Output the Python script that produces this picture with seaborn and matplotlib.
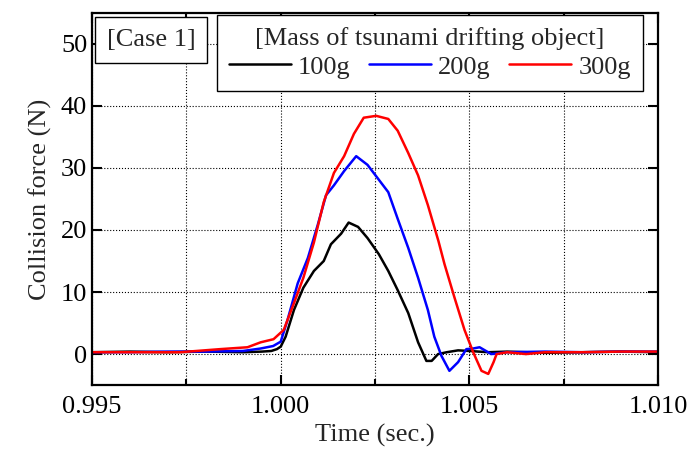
import matplotlib
matplotlib.use("Agg")
import matplotlib.pyplot as plt
from matplotlib.ticker import MultipleLocator, FormatStrFormatter
import pandas as pd
import seaborn as sns

# ==============================================================================: DATA
t_100 = [0.9950, 0.9960, 0.9970, 0.9980, 0.9990, 0.9995, 0.99975, 0.99990, 1.00000,
         1.00013, 1.00035, 1.00060, 1.00088, 1.00114, 1.00133, 1.00160, 1.00180,
         1.00205, 1.00230, 1.00260, 1.00285, 1.00310, 1.00338, 1.00364, 1.00386,
         1.00400, 1.00417, 1.00440, 1.00470, 1.00500, 1.00550, 1.00600, 1.00700,
         1.00800, 1.00900, 1.01000]
f_100 = [0.3, 0.4, 0.3, 0.4, 0.3, 0.4, 0.5, 0.8, 1.2,
         2.8, 7.1, 10.7, 13.4, 15.0, 17.7, 19.4, 21.2,
         20.5, 18.7, 16.1, 13.4, 10.3, 6.6, 1.9, -1.1,
         -1.1, 0.0, 0.3, 0.6, 0.5, 0.3, 0.4, 0.2,
         0.3, 0.4, 0.3]

t_200 = [0.9950, 0.9960, 0.9970, 0.9980, 0.9990, 0.99947, 0.99980, 1.00000, 1.00018,
         1.00045, 1.00072, 1.00098, 1.00120, 1.00141, 1.00168, 1.00200, 1.00230,
         1.00260, 1.00285, 1.00310, 1.00338, 1.00364, 1.00390, 1.00407, 1.00426,
         1.00447, 1.00470, 1.00492, 1.00510, 1.00527, 1.00558, 1.00600, 1.00700,
         1.00800, 1.00900, 1.01000]
f_200 = [0.3, 0.3, 0.4, 0.4, 0.5, 0.9, 1.3, 2.0, 5.5,
         11.4, 15.5, 20.8, 25.6, 27.2, 29.5, 31.9, 30.5,
         28.1, 26.1, 21.8, 17.1, 12.3, 7.1, 2.8, -0.3,
         -2.7, -1.3, 0.8, 0.9, 1.1, 0.0, 0.3, 0.4,
         0.3, 0.4, 0.4]

t_300 = [0.9950, 0.9960, 0.9970, 0.99734, 0.9984, 0.99912, 0.99947, 0.99981, 1.00008,
         1.00035, 1.00060, 1.00088, 1.00114, 1.00141, 1.00168, 1.00194, 1.00220,
         1.00253, 1.00285, 1.00310, 1.00338, 1.00364, 1.00390, 1.00418, 1.00434,
         1.00460, 1.00487, 1.00510, 1.00532, 1.00550, 1.00564, 1.00572, 1.00600,
         1.00650, 1.00700, 1.00800, 1.00900, 1.01000]
f_300 = [0.3, 0.3, 0.3, 0.3, 0.8, 1.1, 1.9, 2.4, 3.9,
         8.2, 12.3, 18.0, 24.5, 29.2, 31.9, 35.5, 38.1,
         38.4, 37.9, 36.0, 32.4, 28.8, 24.0, 18.2, 14.5,
         9.2, 3.9, 0.3, -2.7, -3.2, -1.3, 0.0, 0.3,
         0.0, 0.3, 0.3, 0.4, 0.4]

masses = ["100g", "200g", "300g"]
colors = ["black", "blue", "red"]

SERIF = ["Liberation Serif", "DejaVu Serif"]


# ==============================================================================: PLOT
def build_frame():
    parts = []
    for name, t, f in zip(masses, [t_100, t_200, t_300], [f_100, f_200, f_300]):
        parts.append(pd.DataFrame({"time": t, "force": f, "mass": name}))
    return pd.concat(parts, ignore_index=True)


def main():
    df = build_frame()

    sns.set_style("ticks")
    plt.rcParams["font.family"] = SERIF
    plt.rcParams["font.serif"] = SERIF

    fig = plt.figure(figsize=(6.92, 4.59), dpi=100)
    ax = fig.add_axes([0.133, 0.161, 0.818, 0.811])

    sns.lineplot(data=df, x="time", y="force", hue="mass", palette=dict(zip(masses, colors)),
                 estimator=None, sort=False, linewidth=1.8, ax=ax)

    ax.set_xlim(0.995, 1.010)
    ax.set_ylim(-5, 55)
    ax.xaxis.set_major_locator(MultipleLocator(0.005))
    ax.xaxis.set_minor_locator(MultipleLocator(0.0025))
    ax.xaxis.set_major_formatter(FormatStrFormatter("%.3f"))
    ax.yaxis.set_major_locator(MultipleLocator(10))
    ax.yaxis.set_major_formatter(FormatStrFormatter("%d"))

    ax.grid(True, which="major", color="black", linestyle=":", linewidth=0.8)
    ax.grid(True, which="minor", axis="x", color="black", linestyle=":", linewidth=0.8)

    ax.tick_params(which="both", direction="in", top=True, right=True, labelsize=19,
                   color="black", labelcolor="black", width=1.5)
    ax.tick_params(which="major", length=7)
    ax.tick_params(which="minor", length=4)
    ax.tick_params(axis="x", pad=8)
    for s in ax.spines.values():
        s.set_linewidth(1.6)
        s.set_color("black")

    ax.set_xlabel("Time (sec.)", fontsize=19, labelpad=4, family=SERIF)
    ax.set_ylabel("Collision force (N)", fontsize=19, labelpad=6, family=SERIF)

    handles, labels = ax.get_legend_handles_labels()
    leg = ax.legend(handles, labels, title="[Mass of tsunami drifting object]", ncol=3,
                    loc="upper right", bbox_to_anchor=(0.973, 0.994), borderaxespad=0,
                    fontsize=19, title_fontsize=19, handlelength=2.35, handletextpad=0.27,
                    columnspacing=0.7, frameon=True, fancybox=False, framealpha=1,
                    edgecolor="black", borderpad=0.45, labelspacing=0.2)
    leg.get_frame().set_linewidth(1.0)
    for txt in leg.get_texts() + [leg.get_title()]:
        txt.set_fontfamily(SERIF)

    ax.text(0.104, 0.927, "[Case 1]", transform=ax.transAxes, ha="center", va="center",
            fontsize=19, family=SERIF,
            bbox=dict(boxstyle="square,pad=0.45", fc="white", ec="black", lw=1.0))

    fig.canvas.draw()
    for lbl in ax.get_xticklabels() + ax.get_yticklabels():
        lbl.set_fontfamily(SERIF)

    fig.savefig("out.png", dpi=100)


if __name__ == '__main__':
    main()
